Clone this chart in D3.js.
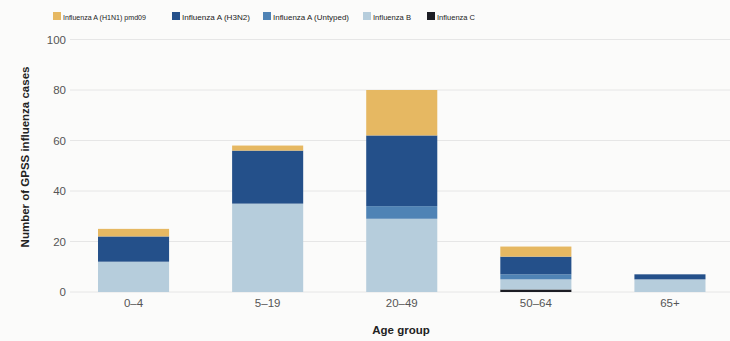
<!DOCTYPE html>
<html>
<head>
<meta charset="utf-8">
<script src="https://cdn.jsdelivr.net/npm/d3@7/dist/d3.min.js"></script>
<style>
  html, body { margin: 0; padding: 0; background: #fbfbfa; }
  svg { display: block; font-family: "Liberation Sans", Arial, sans-serif; }
</style>
</head>
<body>
<svg id="chart" width="730" height="341"></svg>
<script>
// Age groups and case counts per influenza type
const ageGroups = ["0\u20134", "5\u201319", "20\u201349", "50\u201364", "65+"];
const seriesNames = ["Influenza C", "Influenza B", "Influenza A (Untyped)", "Influenza A (H3N2)", "Influenza A (H1N1) pmd09"];
const influenzaC      = [0, 0, 0, 1, 0];
const influenzaB      = [12, 35, 29, 4, 5];
const influenzaAUnt   = [0, 0, 5, 2, 0];
const influenzaAH3N2  = [10, 21, 28, 7, 2];
const influenzaAH1N1  = [3, 2, 18, 4, 0];
const yTicks = [0, 20, 40, 60, 80, 100];
const legendOrder = ["Influenza A (H1N1) pmd09", "Influenza A (H3N2)", "Influenza A (Untyped)", "Influenza B", "Influenza C"];

const colors = {
  "Influenza A (H1N1) pmd09": "#e6b862",
  "Influenza A (H3N2)": "#24508a",
  "Influenza A (Untyped)": "#4f83b5",
  "Influenza B": "#b6cddc",
  "Influenza C": "#1c1d24"
};

const seriesValues = [influenzaC, influenzaB, influenzaAUnt, influenzaAH3N2, influenzaAH1N1];
const table = ageGroups.map((g, i) => {
  const row = { group: g };
  seriesNames.forEach((s, k) => row[s] = seriesValues[k][i]);
  return row;
});

const stacked = d3.stack().keys(seriesNames)(table);

const svg = d3.select("#chart");
const x = d3.scaleBand().domain(ageGroups).range([66.5, 737]).paddingInner(0.47).paddingOuter(0.235);
const y = d3.scaleLinear().domain([0, 100]).range([292, 39.5]);

// gridlines
svg.append("g")
  .selectAll("line").data(yTicks).join("line")
  .attr("x1", 70).attr("x2", 730)
  .attr("y1", d => y(d)).attr("y2", d => y(d))
  .attr("stroke", "#e6e6e6").attr("stroke-width", 1);

// y axis labels
const yAxis = svg.append("g").attr("transform", "translate(66,0)")
  .call(d3.axisLeft(y).tickValues(yTicks).tickSize(0).tickPadding(0));
yAxis.select(".domain").remove();
yAxis.selectAll("text").attr("font-size", 11.5).attr("fill", "#555").attr("font-family", "'Liberation Sans', Arial, sans-serif");

// stacked bars
svg.append("g").selectAll("g").data(stacked).join("g")
  .attr("fill", d => colors[d.key])
  .selectAll("rect").data(d => d).join("rect")
  .attr("x", d => x(d.data.group))
  .attr("width", x.bandwidth())
  .attr("y", d => y(d[1]))
  .attr("height", d => y(d[0]) - y(d[1]));

// x axis labels
const xAxis = svg.append("g").attr("transform", "translate(0,292)")
  .call(d3.axisBottom(x).tickSize(0).tickPadding(7));
xAxis.select(".domain").remove();
xAxis.selectAll("text").attr("font-size", 11.5).attr("fill", "#555").attr("font-family", "'Liberation Sans', Arial, sans-serif");

// axis titles
svg.append("text")
  .attr("x", 401).attr("y", 334)
  .attr("text-anchor", "middle")
  .attr("font-size", 11.5).attr("font-weight", "bold").attr("fill", "#222")
  .text("Age group");

svg.append("text")
  .attr("transform", "translate(29,157) rotate(-90)")
  .attr("text-anchor", "middle")
  .attr("font-size", 11.5).attr("font-weight", "bold").attr("fill", "#222")
  .text("Number of GPSS influenza cases");

// legend
const legendX = [53, 172, 263, 363, 427];
const legendW = [95, 80, 88, 50, 50];
const legend = svg.append("g").selectAll("g").data(legendOrder).join("g")
  .attr("transform", (d, i) => `translate(${legendX[i]},12)`);
legend.append("rect").attr("width", 8).attr("height", 8).attr("fill", d => colors[d]);
legend.append("text")
  .attr("x", 10).attr("y", 7.5)
  .attr("font-size", 8).attr("fill", "#222")
  .attr("textLength", (d, i) => legendW[i] - 12)
  .attr("lengthAdjust", "spacingAndGlyphs")
  .text(d => d);
</script>
</body>
</html>
